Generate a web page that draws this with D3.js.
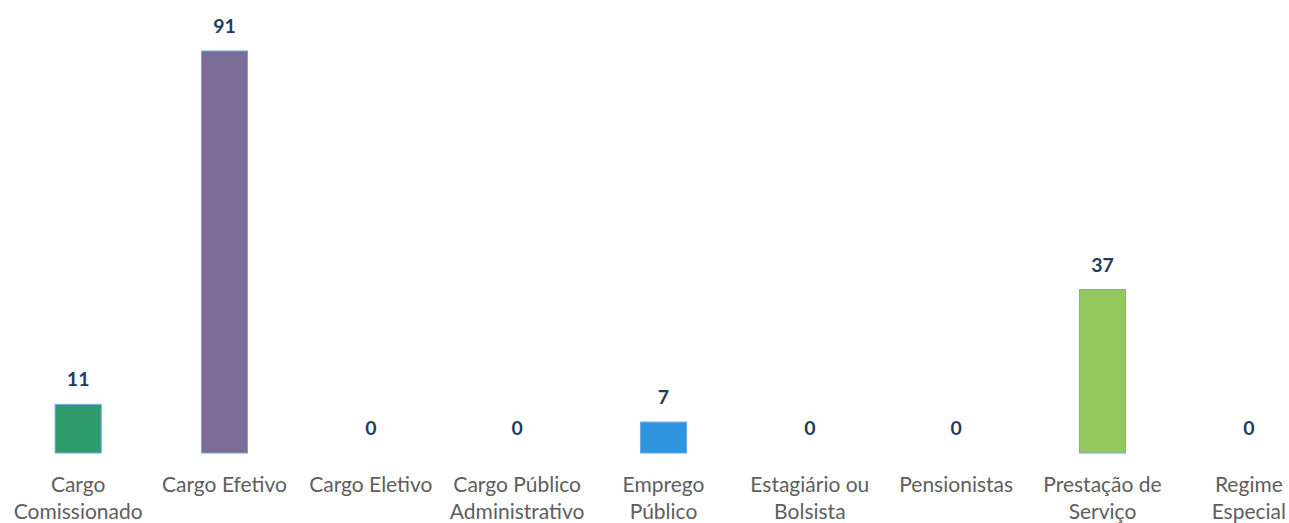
<!DOCTYPE html>
<html>
<head>
<meta charset="utf-8">
<script src="https://cdn.jsdelivr.net/npm/d3@7"></script>
<style>
  html, body { margin: 0; padding: 0; background: #ffffff; }
  svg { display: block; }
</style>
</head>
<body>
<svg id="chart" width="1289" height="523"></svg>
<script>
// Vínculos por tipo
const categories = [
  ["Cargo", "Comissionado"],
  ["Cargo Efetivo"],
  ["Cargo Eletivo"],
  ["Cargo Público", "Administrativo"],
  ["Emprego", "Público"],
  ["Estagiário ou", "Bolsista"],
  ["Pensionistas"],
  ["Prestação de", "Serviço"],
  ["Regime", "Especial"]
];
const values = [11, 91, 0, 0, 7, 0, 0, 37, 0];
const barColors = ["#2f9a6c", "#7c6d97", "#7c6d97", "#7c6d97", "#2e95e0", "#2e95e0", "#2e95e0", "#93c95c", "#93c95c"];

const svg = d3.select("#chart");
const baseY = 453;

const keys = categories.map((c, i) => String(i));
const x = d3.scaleBand().domain(keys).range([5, 1322]).paddingInner(0.685).paddingOuter(0.3425);
const y = d3.scaleLinear().domain([0, 91]).range([baseY, 51]);

// bars
svg.append("g").selectAll("rect")
  .data(values)
  .join("rect")
  .attr("x", (d, i) => x(keys[i]))
  .attr("y", d => y(d))
  .attr("width", x.bandwidth())
  .attr("height", d => baseY - y(d))
  .attr("fill", (d, i) => barColors[i])
  .attr("stroke", (d, i) => d > 0 ? "#6fa8dc" : "none")
  .attr("stroke-width", 1);

// value labels
svg.append("g").selectAll("text")
  .data(values)
  .join("text")
  .attr("x", (d, i) => x(keys[i]) + x.bandwidth() / 2)
  .attr("y", d => y(d) - 18)
  .attr("text-anchor", "middle")
  .attr("font-family", "Lato, 'Open Sans', sans-serif")
  .attr("font-weight", "bold")
  .attr("font-size", 19.5)
  .attr("fill", "#243b5e")
  .text(d => d);

// category axis labels
const xAxis = d3.axisBottom(x).tickSize(0).tickFormat("");
const axisG = svg.append("g").attr("transform", `translate(0,${baseY})`).call(xAxis);
axisG.select(".domain").remove();
axisG.selectAll(".tick").each(function(k, i) {
  const t = d3.select(this).append("text")
    .attr("text-anchor", "middle")
    .attr("font-family", "Lato, 'Open Sans', sans-serif")
    .attr("font-size", 21)
    .attr("fill", "#5e5e5e");
  categories[i].forEach((line, j) => {
    t.append("tspan").attr("x", 0).attr("y", 39 + j * 27).text(line);
  });
});
</script>
</body>
</html>
